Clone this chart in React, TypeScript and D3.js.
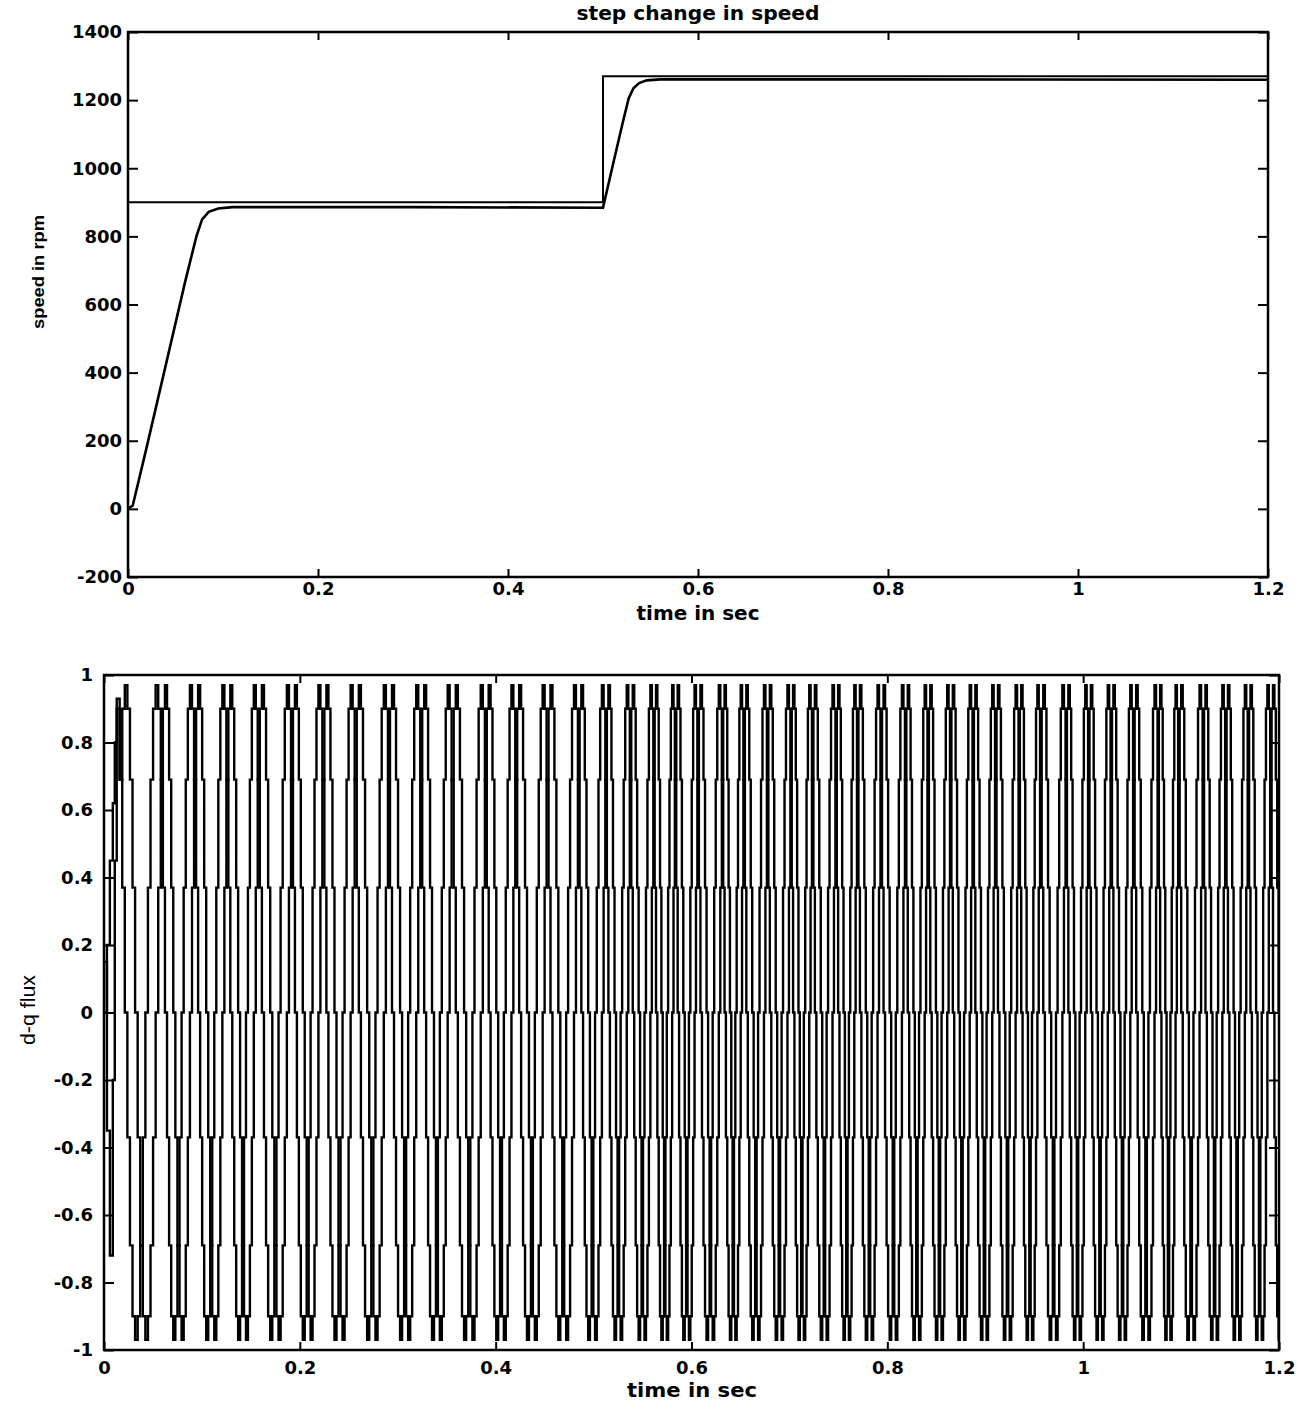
import React, { useEffect, useRef } from 'react';
import * as d3 from 'd3';

const W = 1316;
const H = 1403;

// ---- top panel: step change in speed ----
const timeTicks = [0, 0.2, 0.4, 0.6, 0.8, 1, 1.2];
const speedTicks = [-200, 0, 200, 400, 600, 800, 1000, 1200, 1400];
const refTime = [0, 0.5, 1.2];
const refSpeed = [900, 1270, 1270];
const speedTime = [0, 0.005, 0.02, 0.04, 0.06, 0.072, 0.078, 0.085, 0.095, 0.11, 0.3, 0.5, 0.51, 0.52, 0.527, 0.532, 0.538, 0.546, 0.56, 0.8, 1.2];
const speedRpm = [0, 10, 185, 425, 665, 800, 850, 872, 882, 886, 886, 884, 1005, 1125, 1205, 1235, 1250, 1258, 1261, 1261, 1260];

// ---- bottom panel: d-q flux ----
const fluxTicks = [-1, -0.8, -0.6, -0.4, -0.2, 0, 0.2, 0.4, 0.6, 0.8, 1];
// centre of each positive-peak group (s)
const fluxGroupTimes = [
  0.016, 0.058, 0.092, 0.125, 0.157, 0.191, 0.223, 0.256, 0.29, 0.323, 0.355, 0.389,
  0.42, 0.452, 0.484, 0.512, 0.537, 0.561, 0.583, 0.606, 0.631, 0.653, 0.677, 0.701,
  0.723, 0.747, 0.769, 0.793, 0.818, 0.841, 0.864, 0.887, 0.91, 0.934, 0.956, 0.982,
  1.005, 1.028, 1.051, 1.076, 1.097, 1.122, 1.145, 1.168, 1.191,
];
// staircase levels over one cycle, starting at the group centre
const fluxStepsD = [0.69, 0.37, 0.0, -0.37, -0.69, -0.9, -0.97, -0.9, -0.69, -0.37, 0.0, 0.37, 0.69, 0.9, 0.97, 0.9];
const fluxStepsQ = [0.69, 0.9, 0.97, 0.9, 0.69, 0.37, 0.0, -0.37, -0.69, -0.9, -0.97, -0.9, -0.69, -0.37, 0.0, 0.37];
// start-up transient before the first group
const fluxStartTime = [0, 0.003, 0.006, 0.009, 0.011, 0.013];
const fluxStartD = [0.15, -0.35, -0.72, -0.2, 0.45, 0.93];
const fluxStartQ = [0.0, 0.2, 0.45, 0.62, 0.8, 0.9];

const TICK_FONT = "'DejaVu Sans', sans-serif";

const buildFlux = (startVals, steps) => {
  const pts = fluxStartTime.map((t, i) => [t, startVals[i]]);
  const n = fluxGroupTimes.length;
  for (let i = 0; i < n; i++) {
    const t0 = fluxGroupTimes[i];
    const t1 = i < n - 1 ? fluxGroupTimes[i + 1] : t0 + (t0 - fluxGroupTimes[i - 1]);
    steps.forEach((v, k) => pts.push([t0 + (k * (t1 - t0)) / steps.length, v]));
    if (i === n - 1) pts.push([t1, steps[0]]);
  }
  return pts;
};

const App = () => {
  const svgRef = useRef(null);

  useEffect(() => {
    const svg = d3.select(svgRef.current);
    svg.selectAll('*').remove();

    const drawFrame = (x, y, xTicks, yTicks, yPad, xPad, clipId) => {
      const [x0, x1] = x.range();
      const [y0, y1] = y.range();
      const g = svg.append('g');

      const styleAxis = (sel) => {
        sel.select('.domain').remove();
        sel.selectAll('.tick line').attr('stroke', '#000').attr('stroke-width', 2);
        sel.selectAll('.tick text')
          .attr('fill', '#000')
          .attr('font-family', TICK_FONT)
          .attr('font-size', 18)
          .attr('font-weight', 'bold');
      };

      g.append('g').attr('transform', `translate(${x0},0)`)
        .call(d3.axisLeft(y).tickValues(yTicks).tickSize(-10).tickPadding(yPad).tickFormat(d => String(d)))
        .call(styleAxis);
      g.append('g').attr('transform', `translate(${x1},0)`)
        .call(d3.axisRight(y).tickValues(yTicks).tickSize(-10).tickFormat(() => ''))
        .call(styleAxis);
      g.append('g').attr('transform', `translate(0,${y0})`)
        .call(d3.axisBottom(x).tickValues(xTicks).tickSize(-8).tickPadding(xPad).tickFormat(d => String(d)))
        .call(styleAxis);
      g.append('g').attr('transform', `translate(0,${y1})`)
        .call(d3.axisTop(x).tickValues(xTicks).tickSize(-8).tickFormat(() => ''))
        .call(styleAxis);

      svg.append('clipPath').attr('id', clipId)
        .append('rect').attr('x', x0).attr('y', y1).attr('width', x1 - x0).attr('height', y0 - y1);

      return g;
    };

    const border = (x, y) => {
      const [x0, x1] = x.range();
      const [y0, y1] = y.range();
      svg.append('rect')
        .attr('x', x0).attr('y', y1).attr('width', x1 - x0).attr('height', y0 - y1)
        .attr('fill', 'none').attr('stroke', '#000').attr('stroke-width', 2.5);
    };

    // --- TOP PANEL ---
    const xTop = d3.scaleLinear().domain([0, 1.2]).range([128, 1268]);
    const yTop = d3.scaleLinear().domain([-200, 1400]).range([577, 32]);
    drawFrame(xTop, yTop, timeTicks, speedTicks, 6, 5, 'clip-top');

    const topLine = d3.line().x(d => xTop(d[0])).y(d => yTop(d[1]));
    svg.append('path')
      .datum(refTime.map((t, i) => [t, refSpeed[i]]))
      .attr('d', topLine.curve(d3.curveStepAfter))
      .attr('fill', 'none').attr('stroke', '#000').attr('stroke-width', 2)
      .attr('clip-path', 'url(#clip-top)');
    svg.append('path')
      .datum(speedTime.map((t, i) => [t, speedRpm[i]]))
      .attr('d', d3.line().x(d => xTop(d[0])).y(d => yTop(d[1])))
      .attr('fill', 'none').attr('stroke', '#000').attr('stroke-width', 2.6)
      .attr('clip-path', 'url(#clip-top)');
    border(xTop, yTop);

    svg.append('text').attr('x', 698).attr('y', 20).attr('text-anchor', 'middle')
      .attr('font-family', TICK_FONT).attr('font-weight', 'bold').attr('font-size', 19)
      .attr('textLength', 243).attr('lengthAdjust', 'spacingAndGlyphs')
      .text('step change in speed');
    svg.append('text').attr('x', 698).attr('y', 620).attr('text-anchor', 'middle')
      .attr('font-family', TICK_FONT).attr('font-weight', 'bold').attr('font-size', 19)
      .attr('textLength', 123).attr('lengthAdjust', 'spacingAndGlyphs')
      .text('time in sec');
    svg.append('text').attr('transform', 'translate(44,272) rotate(-90)').attr('text-anchor', 'middle')
      .attr('font-family', "'Liberation Sans', Arial, sans-serif").attr('font-size', 16)
      .attr('font-weight', 'bold')
      .attr('textLength', 114).attr('lengthAdjust', 'spacingAndGlyphs')
      .text('speed in rpm');

    // --- BOTTOM PANEL ---
    const xBot = d3.scaleLinear().domain([0, 1.2]).range([104, 1279]);
    const yBot = d3.scaleLinear().domain([-1, 1]).range([1350, 675]);
    drawFrame(xBot, yBot, timeTicks, fluxTicks, 11, 11, 'clip-bot');

    const fluxLine = d3.line().x(d => xBot(d[0])).y(d => yBot(d[1])).curve(d3.curveStepAfter);
    [buildFlux(fluxStartD, fluxStepsD), buildFlux(fluxStartQ, fluxStepsQ)].forEach(pts => {
      svg.append('path')
        .datum(pts)
        .attr('d', fluxLine)
        .attr('fill', 'none').attr('stroke', '#000').attr('stroke-width', 2.4)
        .attr('clip-path', 'url(#clip-bot)');
    });
    border(xBot, yBot);

    svg.append('text').attr('x', 692).attr('y', 1397).attr('text-anchor', 'middle')
      .attr('font-family', TICK_FONT).attr('font-weight', 'bold').attr('font-size', 20)
      .attr('textLength', 130).attr('lengthAdjust', 'spacingAndGlyphs')
      .text('time in sec');
    svg.append('text').attr('transform', 'translate(35,1010) rotate(-90)').attr('text-anchor', 'middle')
      .attr('font-family', "'Liberation Sans', Arial, sans-serif").attr('font-size', 20)
      .attr('textLength', 70).attr('lengthAdjust', 'spacingAndGlyphs')
      .text('d-q flux');
  }, []);

  return (
    <div style={{ position: 'absolute', left: 0, top: 0, width: W, height: H, background: '#fff' }}>
      <svg ref={svgRef} width={W} height={H} style={{ display: 'block' }} />
    </div>
  );
};

export default App;
